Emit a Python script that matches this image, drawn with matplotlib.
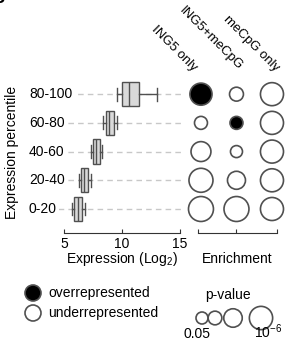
import matplotlib
matplotlib.use('Agg')
import matplotlib.pyplot as plt

plt.rcParams['font.family'] = ['Liberation Sans', 'DejaVu Sans']
plt.rcParams['mathtext.fontset'] = 'custom'
plt.rcParams['mathtext.rm'] = 'Liberation Sans'
plt.rcParams['mathtext.it'] = 'Liberation Sans:italic'

# expression percentiles, bottom to top
percentiles = ['0-20', '20-40', '40-60', '60-80', '80-100']
whislo = [5.7, 6.3, 7.3, 8.4, 9.6]
q1 = [5.9, 6.45, 7.5, 8.6, 10.0]
med = [6.2, 6.75, 7.8, 8.9, 10.6]
q3 = [6.55, 7.1, 8.1, 9.3, 11.5]
whishi = [6.8, 7.3, 8.3, 9.6, 13.0]

# enrichment: -log10(p) per percentile (bottom to top) and over/under flag
groups = ['ING5 only', 'ING5+meCpG', 'meCpG only']
nlp_ing5 = [6.7, 6.3, 4.6, 1.7, 5.5]
nlp_both = [6.7, 3.8, 1.3, 1.7, 2.1]
nlp_mecpg = [5.9, 5.9, 5.9, 5.9, 5.9]
over_ing5 = [0, 0, 0, 0, 1]
over_both = [0, 0, 0, 1, 0]
over_mecpg = [0, 0, 0, 0, 0]

legend_nlp = [1.3, 2, 4, 6]
legend_labels = ['0.05', '', '', r'$10^{-6}$']

W, H = 286, 341
fig = plt.figure(figsize=(W / 100, H / 100), dpi=100)


def rect(x0, y0, x1, y1):
    return [x0 / W, 1 - y1 / H, (x1 - x0) / W, (y1 - y0) / H]


def msize(nlp):
    d_px = 12 + 2.4 * (nlp - 1.3)
    return (d_px * 0.72) ** 2


rows = list(range(len(percentiles)))
ylim = (-0.836, 5.19)
edge = '#505050'

# ---- box plot panel
ax = fig.add_axes(rect(64, 60, 190, 233))
ax.set_xlim(5, 15.86)
ax.set_ylim(*ylim)
ax.hlines(rows, 1.98, 15.6, colors='#c8c8c8', linestyles=(0, (4, 3)),
          linewidth=1, clip_on=False, zorder=1)
stats = [dict(whislo=a, q1=b, med=c, q3=d, whishi=e)
         for a, b, c, d, e in zip(whislo, q1, med, q3, whishi)]
ax.bxp(stats, positions=rows, orientation='horizontal', widths=0.85,
       capwidths=0.45, showfliers=False, patch_artist=True,
       boxprops=dict(facecolor='#d9d9d9', edgecolor=edge, linewidth=1),
       medianprops=dict(color=edge, linewidth=1),
       whiskerprops=dict(color=edge, linewidth=1),
       capprops=dict(color=edge, linewidth=1), zorder=3)
for r, lab in zip(rows, percentiles):
    ax.text(1.98, r, lab, ha='left', va='center', fontsize=10, zorder=5,
            bbox=dict(facecolor='white', edgecolor='none', pad=1.5))
for s in ['top', 'right', 'left']:
    ax.spines[s].set_visible(False)
ax.spines['bottom'].set_bounds(5, 15)
ax.spines['bottom'].set_color('#333333')
ax.set_yticks([])
ax.set_xticks([5, 10, 15])
ax.tick_params(axis='x', direction='in', length=3, pad=3, labelsize=10,
               color='#333333')

# ---- enrichment panel
ax2 = fig.add_axes(rect(185, 60, 286, 233))
ax2.set_xlim(0.55, 3.395)
ax2.set_ylim(*ylim)
for i, (nlp, over) in enumerate([(nlp_ing5, over_ing5), (nlp_both, over_both),
                                 (nlp_mecpg, over_mecpg)]):
    ax2.scatter([i + 1] * len(rows), rows, s=[msize(v) for v in nlp],
                c=['black' if o else 'white' for o in over],
                edgecolors=edge, linewidths=1.2, clip_on=False, zorder=3)
for s in ['top', 'right', 'left']:
    ax2.spines[s].set_visible(False)
ax2.spines['bottom'].set_bounds(0.915, 3.14)
ax2.spines['bottom'].set_color('#333333')
ax2.set_yticks([])
ax2.set_xticks([0.915, 2, 3.14])
ax2.set_xticklabels([])
ax2.tick_params(axis='x', direction='in', length=3, color='#333333')

# ---- overlay for labels and legends (pixel coordinates)
lax = fig.add_axes([0, 0, 1, 1])
lax.set_xlim(0, W)
lax.set_ylim(H, 0)
lax.axis('off')

# panel letter, cut off at the top edge as in the source figure
lax.text(-7, -1, 'g', fontsize=14, fontweight='bold', ha='left', va='baseline')
lax.text(12, 152, 'Expression percentile', rotation=90, ha='center',
         va='center', fontsize=10)
lax.text(122, 259, 'Expression (Log$_2$)', ha='center', va='center', fontsize=10)
lax.text(237, 259, 'Enrichment', ha='center', va='center', fontsize=10)

for (x, y), g in zip([(193, 72), (238, 70), (275, 72)], groups):
    lax.text(x, y, g, rotation=-45, rotation_mode='anchor', ha='right',
             va='baseline', fontsize=9.5)

lax.scatter([33, 33], [293, 313], s=(16 * 0.72) ** 2, c=['black', 'white'],
            edgecolors=edge, linewidths=1.2)
lax.text(48, 293, 'overrepresented', ha='left', va='center', fontsize=10)
lax.text(48, 313, 'underrepresented', ha='left', va='center', fontsize=10)

lax.text(228, 295, 'p-value', ha='center', va='center', fontsize=10)
lx = [202, 215, 233, 261]
lax.scatter(lx, [318] * 4, s=[msize(v) for v in legend_nlp], c='white',
            edgecolors=edge, linewidths=1.2)
lax.text(197, 334, legend_labels[0], ha='center', va='center', fontsize=10)
lax.text(268, 332, legend_labels[3], ha='center', va='center', fontsize=10)

fig.savefig('out.png', dpi=100)
